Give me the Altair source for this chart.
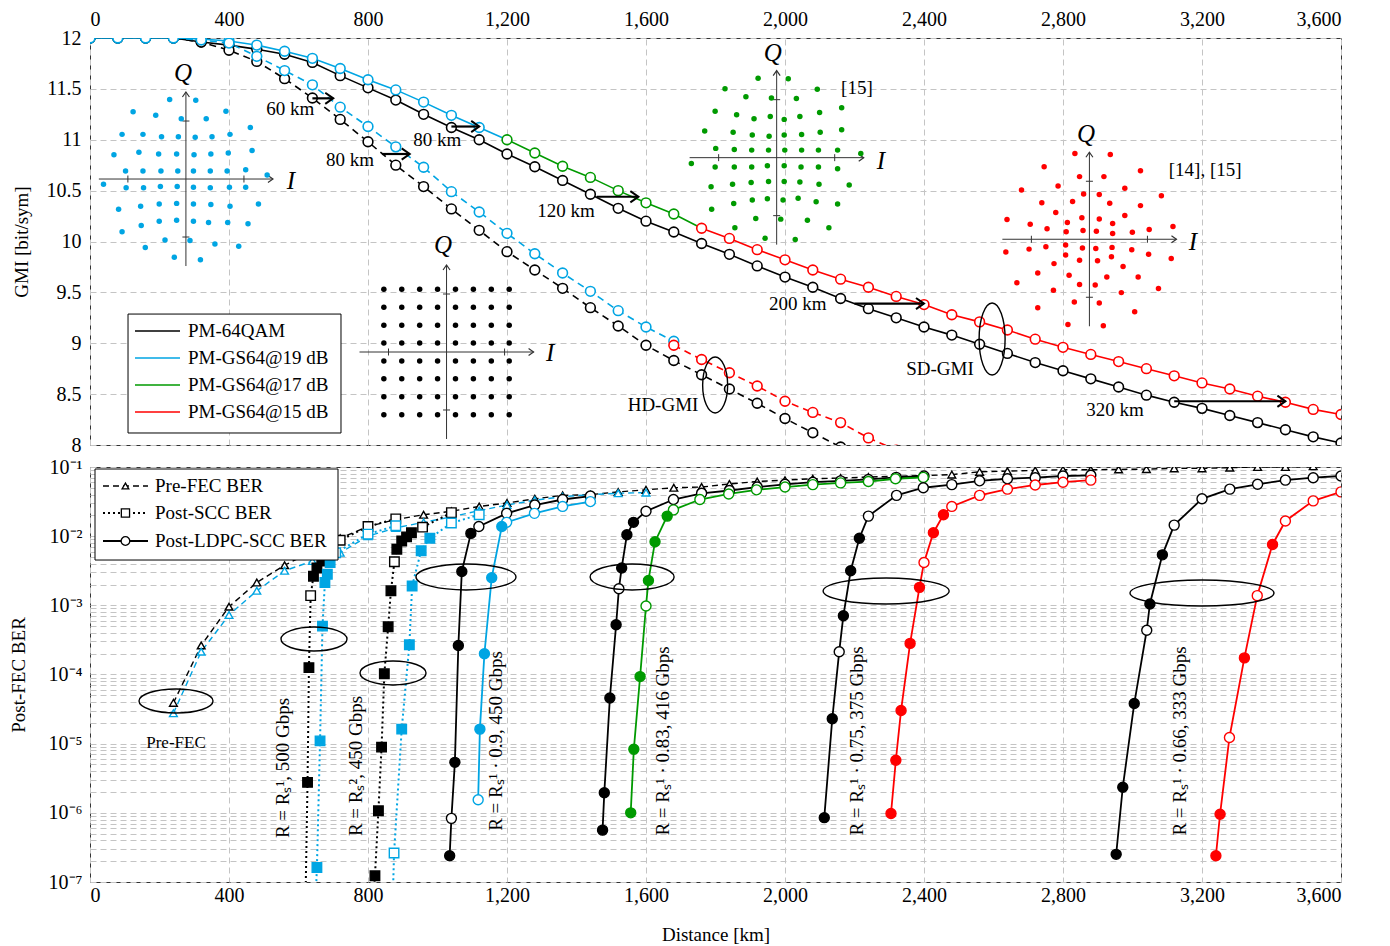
import math
import altair as alt
import pandas as pd

FONT = "Liberation Serif"
BLACK = "#000000"
BLUE = "#00a5e3"
GREEN = "#009a00"
RED = "#ff0000"
GRID = "#c4c4c4"
AXLINE = "#333333"

W = 1251
H_TOP = 407
H_BOT = 415

# ===================== TOP PANEL: GMI vs distance =====================
QAM_SD_KM = [0, 80, 160, 240, 320, 400, 480, 560, 640, 720, 800, 880, 960, 1040, 1120,
             1200, 1280, 1360, 1440, 1520, 1600, 1680, 1760, 1840, 1920, 2000, 2080, 2160,
             2240, 2320, 2400, 2480, 2560, 2640, 2720, 2800, 2880, 2960, 3040, 3120, 3200,
             3280, 3360, 3440, 3520, 3600]
QAM_SD_GMI = [12, 12, 12, 12, 11.96, 11.93, 11.89, 11.84, 11.76, 11.63, 11.51, 11.39, 11.25, 11.12, 11.00,
              10.86, 10.735, 10.60, 10.464, 10.326, 10.20, 10.093, 9.98, 9.874, 9.76, 9.65, 9.55, 9.44,
              9.34, 9.25, 9.16, 9.08, 8.99, 8.90, 8.81, 8.73, 8.65, 8.57, 8.49, 8.42, 8.36,
              8.29, 8.22, 8.15, 8.08, 8.02]

GS19_SD_KM = [0, 80, 160, 240, 320, 400, 480, 560, 640, 720, 800, 880, 960, 1040, 1120, 1200]
GS19_SD_GMI = [12, 12, 12, 12, 11.99, 11.97, 11.93, 11.87, 11.80, 11.70, 11.59, 11.49, 11.37, 11.24, 11.12, 11.00]

GS17_SD_KM = [1200, 1280, 1360, 1440, 1520, 1600, 1680, 1760]
GS17_SD_GMI = [11.00, 10.87, 10.74, 10.63, 10.50, 10.38, 10.27, 10.13]

GS15_SD_KM = [1760, 1840, 1920, 2000, 2080, 2160, 2240, 2320, 2400, 2480, 2560, 2640, 2720, 2800,
              2880, 2960, 3040, 3120, 3200, 3280, 3360, 3440, 3520, 3600]
GS15_SD_GMI = [10.13, 10.03, 9.92, 9.82, 9.72, 9.63, 9.55, 9.46, 9.38, 9.28, 9.21, 9.13, 9.04, 8.96,
               8.89, 8.82, 8.75, 8.68, 8.61, 8.55, 8.48, 8.42, 8.35, 8.30]

QAM_HD_KM = [0, 80, 160, 240, 320, 400, 480, 560, 640, 720, 800, 880, 960, 1040, 1120,
             1200, 1280, 1360, 1440, 1520, 1600, 1680, 1760, 1840, 1920, 2000, 2080, 2160]
QAM_HD_GMI = [12, 12, 12, 12, 11.96, 11.88, 11.77, 11.60, 11.41, 11.20, 10.98, 10.75, 10.54, 10.32, 10.11,
              9.90, 9.72, 9.54, 9.35, 9.17, 8.98, 8.83, 8.69, 8.55, 8.41, 8.26, 8.12, 7.98]

GS19_HD_KM = [0, 80, 160, 240, 320, 400, 480, 560, 640, 720, 800, 880, 960, 1040, 1120,
              1200, 1280, 1360, 1440, 1520, 1600, 1680]
GS19_HD_GMI = [12, 12, 12, 12, 11.98, 11.95, 11.82, 11.68, 11.54, 11.32, 11.13, 10.93, 10.73, 10.49, 10.29,
               10.08, 9.88, 9.69, 9.51, 9.32, 9.16, 9.02]

GS15_HD_KM = [1680, 1760, 1840, 1920, 2000, 2080, 2160, 2240, 2320]
GS15_HD_GMI = [8.98, 8.84, 8.71, 8.58, 8.43, 8.32, 8.22, 8.07, 7.95]

# (name, km, gmi, colour, style, marker on last point)
TOP_SERIES = [
    ("qam_sd", QAM_SD_KM, QAM_SD_GMI, BLACK, "solid", True),
    ("qam_hd", QAM_HD_KM, QAM_HD_GMI, BLACK, "dash", True),
    ("gs19_sd", GS19_SD_KM, GS19_SD_GMI, BLUE, "solid", False),
    ("gs19_hd", GS19_HD_KM, GS19_HD_GMI, BLUE, "dash", True),
    ("gs17_sd", GS17_SD_KM, GS17_SD_GMI, GREEN, "solid", False),
    ("gs15_sd", GS15_SD_KM, GS15_SD_GMI, RED, "solid", True),
    ("gs15_hd", GS15_HD_KM, GS15_HD_GMI, RED, "dash", True),
]

# Constellation diagrams (normalised I/Q, tick mark at +-1)
GS19_IQ = [(0.17, 1.36), (0.35, 1.04), (0.69, 1.17), (1.11, 0.89), (0.16, 0.72), (0.45, 0.73), (0.76, 0.77),
           (0.14, 0.42), (0.43, 0.43), (0.73, 0.45), (1.14, 0.49), (0.13, 0.14), (0.42, 0.14), (0.71, 0.14),
           (1.03, 0.16), (1.40, 0.07),
           (-0.28, 1.37), (-0.08, 1.04), (-0.52, 1.10), (-0.91, 1.16), (-1.10, 0.77), (-0.74, 0.77),
           (-0.42, 0.73), (-0.13, 0.73), (-1.24, 0.42), (-0.81, 0.46), (-0.47, 0.43), (-0.16, 0.43),
           (-1.04, 0.14), (-0.74, 0.14), (-0.43, 0.14), (-0.14, 0.14),
           (-1.42, -0.09), (-1.03, -0.15), (-0.73, -0.15), (-0.44, -0.13), (-0.15, -0.13), (-1.16, -0.52),
           (-0.78, -0.47), (-0.46, -0.43), (-0.16, -0.42), (-1.10, -0.91), (-0.77, -0.80), (-0.46, -0.73),
           (-0.16, -0.71), (-0.70, -1.18), (-0.36, -1.05), (-0.20, -1.35),
           (0.13, -0.14), (0.42, -0.15), (0.75, -0.14), (1.03, -0.14), (1.25, -0.43), (0.13, -0.43),
           (0.43, -0.44), (0.76, -0.47), (0.13, -0.73), (0.39, -0.75), (0.72, -0.75), (1.07, -0.77),
           (0.07, -1.06), (0.50, -1.12), (0.91, -1.16), (0.25, -1.39)]

GS17_IQ = [(-0.32, 1.37), (0.20, 1.36),
           (-0.89, 1.19), (-0.53, 1.05), (-0.09, 1.03), (0.34, 1.02), (0.70, 1.18),
           (-1.06, 0.80), (-0.69, 0.74), (-0.39, 0.67), (-0.11, 0.71), (0.13, 0.66), (0.40, 0.71), (0.74, 0.78), (1.12, 0.86),
           (-1.24, 0.46), (-0.75, 0.44), (-0.42, 0.39), (-0.13, 0.37), (0.13, 0.39), (0.43, 0.40), (0.75, 0.44), (1.12, 0.48),
           (-1.05, 0.16), (-0.73, 0.14), (-0.43, 0.13), (-0.14, 0.13), (0.14, 0.13), (0.43, 0.13), (0.72, 0.13), (1.05, 0.13), (1.45, 0.07),
           (-1.47, -0.10), (-1.06, -0.16), (-0.73, -0.16), (-0.43, -0.16), (-0.16, -0.14), (0.13, -0.14), (0.42, -0.16), (0.72, -0.16), (1.05, -0.19),
           (-1.13, -0.50), (-0.76, -0.46), (-0.44, -0.43), (-0.14, -0.41), (0.13, -0.41), (0.40, -0.42), (0.73, -0.46), (1.25, -0.47),
           (-1.12, -0.89), (-0.74, -0.79), (-0.42, -0.73), (-0.16, -0.71), (0.11, -0.73), (0.37, -0.70), (0.68, -0.76), (1.05, -0.80),
           (-0.72, -1.21), (-0.36, -1.05), (0.07, -1.06), (0.53, -1.08), (0.90, -1.21),
           (-0.20, -1.39), (0.32, -1.41)]

GS15_IQ = [(-0.25, 1.48), (0.36, 1.46), (-0.78, 1.25), (0.88, 1.18), (-0.17, 1.08), (0.25, 1.08),
           (-0.54, 0.92), (-1.17, 0.85), (0.61, 0.88), (1.24, 0.75),
           (-0.10, 0.78), (0.17, 0.77), (-0.29, 0.65), (-0.82, 0.63), (0.35, 0.62), (0.88, 0.58),
           (-0.58, 0.46), (0.61, 0.41), (-1.42, 0.34), (-1.02, 0.26), (-0.38, 0.29), (-0.13, 0.37), (0.17, 0.35), (0.40, 0.27), (1.44, 0.22),
           (-0.73, 0.18), (-0.40, 0.13), (-0.11, 0.15), (0.12, 0.14), (0.40, 0.10), (0.74, 0.12), (1.03, 0.17),
           (-1.44, -0.22), (-1.04, -0.17), (-0.75, -0.13), (-0.41, -0.10), (-0.12, -0.15), (0.11, -0.16), (0.39, -0.14), (0.73, -0.18), (1.02, -0.26), (1.41, -0.33),
           (-0.61, -0.42), (-0.41, -0.27), (-0.17, -0.36), (0.14, -0.37), (0.38, -0.30), (0.58, -0.47),
           (-0.89, -0.58), (-0.35, -0.62), (-0.17, -0.78), (0.10, -0.79), (0.30, -0.65), (0.84, -0.65), (-1.25, -0.75),
           (-0.62, -0.88), (0.55, -0.92), (1.19, -0.85),
           (-0.26, -1.08), (0.17, -1.10), (-0.89, -1.18), (0.78, -1.25),
           (-0.37, -1.47), (0.24, -1.49)]

QAM_LEVELS = [-7, -5, -3, -1, 1, 3, 5, 7]
QAM_NORM = math.sqrt(42)

# inset placement: centre (km, GMI), one normalised unit in km / GMI
UK = 167.0
UG = 0.57
INSET_CENTRES = {"gs19": (276, 10.614), "gs17": (1976, 10.824), "gs15": (2876, 10.022), "qam": (1026, 8.914)}
INSET_LABELS = [  # (text, km, gmi)
    ("Q", 268, 11.656), ("I", 578, 10.595),
    ("Q", 1965, 11.853), ("I", 2276, 10.791),
    ("Q", 2866, 11.057), ("I", 3174, 9.995),
    ("Q", 1016, 9.966), ("I", 1324, 8.904)]
REF_LABELS = [("[15]", 2207, 11.509), ("[14], [15]", 3209, 10.703)]

# distance-gain arrows: (start km, end km, gmi, label, label km, label gmi)
ARROWS = [(640, 700, 11.407, "60 km", 576, 11.302),
          (1040, 1120, 11.13, "80 km", 999, 10.998),
          (840, 920, 10.86, "80 km", 748, 10.80),
          (1458, 1578, 10.44, "120 km", 1370, 10.30),
          (2200, 2400, 9.39, "200 km", 2037, 9.386),
          (3120, 3440, 8.43, "320 km", 2950, 8.344)]
TOP_ELLIPSES = [(1799, 8.59, 25, 56), (2596, 9.042, 26, 72)]  # km, gmi, width px, height px
TOP_NOTES = [("HD-GMI", 1649, 8.393), ("SD-GMI", 2446, 8.747)]

TOP_LEGEND = [("PM-64QAM", BLACK), ("PM-GS64@19 dB", BLUE), ("PM-GS64@17 dB", GREEN), ("PM-GS64@15 dB", RED)]
TOP_LEG_ROWS = [9.120, 8.855, 8.590, 8.324]
TOP_LEG_BOX = (109.4, 722.3, 9.287, 8.118)
TOP_LEG_LINE = (129.5, 259.0)
TOP_LEG_TEXT_KM = 282

# ===================== BOTTOM PANEL: BER vs distance =====================
PRE_QAM_KM = [240, 320, 400, 480, 560, 640, 720, 800, 880, 960, 1040, 1120, 1200, 1280, 1360, 1440, 1520,
              1600, 1680, 1760, 1840, 1920, 2000, 2080, 2160, 2240, 2320, 2400, 2480, 2560, 2640, 2720,
              2800, 2880, 2960, 3040, 3120, 3200, 3280, 3360, 3440, 3520]
PRE_QAM_LOG = [-4.41, -3.58, -3.02, -2.67, -2.42, -2.22, -2.03, -1.86, -1.76, -1.69, -1.64, -1.57, -1.52,
               -1.46, -1.41, -1.40, -1.36, -1.33, -1.30, -1.29, -1.245, -1.21, -1.19, -1.17, -1.16, -1.145,
               -1.135, -1.125, -1.11, -1.07, -1.06, -1.05, -1.04, -1.04, -1.035, -1.03, -1.02, -1.02, -1.01,
               -1.00, -1.00, -0.99]
PRE_GS_KM = [240, 320, 400, 480, 560, 640, 720, 800, 880, 960, 1040, 1120, 1200, 1280, 1360, 1440, 1520, 1600]
PRE_GS_LOG = [-4.56, -3.67, -3.14, -2.79, -2.50, -2.36, -2.24, -2.00, -1.88, -1.80, -1.72, -1.63, -1.55,
              -1.48, -1.43, -1.40, -1.38, -1.37]

SCC_QAM_500_KM = [880, 800, 720, 667, 653, 643, 635, 630, 626, 620]
SCC_QAM_500_LOG = [-1.75, -1.86, -2.06, -2.36, -2.46, -2.58, -2.86, -3.90, -5.56, -7.3]
SCC_QAM_500_MK = "ooofffoffn"
SCC_GS_500_KM = [880, 800, 707, 691, 683, 676, 669, 662, 653, 649]
SCC_GS_500_LOG = [-1.85, -1.97, -2.24, -2.38, -2.55, -2.67, -3.30, -4.96, -6.79, -7.3]
SCC_GS_500_MK = "oooffffffn"
SCC_QAM_450_KM = [1040, 957, 925, 911, 897, 883, 876, 866, 858, 847, 839, 830, 820, 815]
SCC_QAM_450_LOG = [-1.66, -1.87, -1.95, -2.01, -2.07, -2.19, -2.37, -2.79, -3.31, -3.99, -5.05, -5.97, -6.91, -7.3]
SCC_QAM_450_MK = "ooffffoffffffn"
SCC_GS_450_KM = [1120, 1040, 978, 953, 927, 919, 897, 875, 871]
SCC_GS_450_LOG = [-1.69, -1.81, -2.03, -2.21, -2.72, -3.57, -4.79, -6.58, -7.3]
SCC_GS_450_MK = "oofffffon"

LDPC_QAM_450_KM = [1440, 1360, 1280, 1199, 1119, 1096, 1070, 1060, 1050, 1040, 1035]
LDPC_QAM_450_LOG = [-1.42, -1.47, -1.55, -1.67, -1.86, -1.96, -2.51, -3.58, -5.27, -6.08, -6.62]
LDPC_QAM_450_MK = "oooooffffof"
LDPC_GS19_KM = [1440, 1360, 1279, 1199, 1185, 1156, 1135, 1122, 1117]
LDPC_GS19_LOG = [-1.50, -1.57, -1.67, -1.80, -1.86, -2.60, -3.70, -4.79, -5.81]
LDPC_GS19_MK = "ooooffffo"
LDPC_QAM_416_KM = [2400, 2320, 2240, 2160, 2080, 2000, 1920, 1840, 1760, 1679, 1600, 1564, 1545, 1530, 1522,
                   1514, 1496, 1480, 1475]
LDPC_QAM_416_LOG = [-1.13, -1.15, -1.18, -1.20, -1.22, -1.25, -1.29, -1.34, -1.38, -1.47, -1.64, -1.80, -1.98,
                    -2.46, -2.76, -3.28, -4.34, -5.71, -6.25]
LDPC_QAM_416_MK = "ooooooooooofffoffff"
LDPC_GS17_KM = [2398, 2318, 2240, 2160, 2080, 2000, 1918, 1838, 1755, 1679, 1661, 1626, 1607, 1600, 1583, 1565, 1556]
LDPC_GS17_LOG = [-1.15, -1.17, -1.21, -1.23, -1.255, -1.29, -1.33, -1.39, -1.47, -1.62, -1.71, -2.08, -2.64,
                 -3.01, -4.03, -5.08, -6.0]
LDPC_GS17_MK = "oooooooooofffofff"
LDPC_QAM_375_KM = [2880, 2800, 2720, 2640, 2560, 2480, 2398, 2321, 2240, 2214, 2189, 2168, 2156, 2136, 2113]
LDPC_QAM_375_LOG = [-1.12, -1.13, -1.155, -1.17, -1.20, -1.255, -1.30, -1.41, -1.71, -2.03, -2.50, -3.15, -3.67,
                    -4.64, -6.07]
LDPC_QAM_375_MK = "ooooooooofffoff"
LDPC_GS15_375_KM = [2880, 2800, 2720, 2640, 2560, 2480, 2456, 2427, 2400, 2387, 2360, 2334, 2319, 2305]
LDPC_GS15_375_LOG = [-1.19, -1.22, -1.26, -1.32, -1.41, -1.57, -1.69, -1.95, -2.38, -2.74, -3.55, -4.52, -5.24, -6.01]
LDPC_GS15_375_MK = "ooooooffofffff"
LDPC_QAM_333_KM = [3600, 3520, 3440, 3360, 3280, 3200, 3120, 3086, 3050, 3041, 3005, 2972, 2953]
LDPC_QAM_333_LOG = [-1.13, -1.155, -1.19, -1.25, -1.32, -1.46, -1.84, -2.27, -2.98, -3.36, -4.42, -5.63, -6.60]
LDPC_QAM_333_MK = "oooooooffofff"
LDPC_GS15_333_KM = [3600, 3520, 3440, 3403, 3359, 3322, 3279, 3252, 3240]
LDPC_GS15_333_LOG = [-1.36, -1.49, -1.78, -2.12, -2.86, -3.76, -4.91, -6.02, -6.62]
LDPC_GS15_333_MK = "ooofofoff"

BOT_CURVES = [  # name, km, log10 BER, markers, colour, style
    ("pre_qam", PRE_QAM_KM, PRE_QAM_LOG, None, BLACK, "pre"),
    ("pre_gs", PRE_GS_KM, PRE_GS_LOG, None, BLUE, "pre"),
    ("scc_qam_500", SCC_QAM_500_KM, SCC_QAM_500_LOG, SCC_QAM_500_MK, BLACK, "scc"),
    ("scc_gs_500", SCC_GS_500_KM, SCC_GS_500_LOG, SCC_GS_500_MK, BLUE, "scc"),
    ("scc_qam_450", SCC_QAM_450_KM, SCC_QAM_450_LOG, SCC_QAM_450_MK, BLACK, "scc"),
    ("scc_gs_450", SCC_GS_450_KM, SCC_GS_450_LOG, SCC_GS_450_MK, BLUE, "scc"),
    ("ldpc_qam_450", LDPC_QAM_450_KM, LDPC_QAM_450_LOG, LDPC_QAM_450_MK, BLACK, "ldpc"),
    ("ldpc_gs19", LDPC_GS19_KM, LDPC_GS19_LOG, LDPC_GS19_MK, BLUE, "ldpc"),
    ("ldpc_qam_416", LDPC_QAM_416_KM, LDPC_QAM_416_LOG, LDPC_QAM_416_MK, BLACK, "ldpc"),
    ("ldpc_gs17", LDPC_GS17_KM, LDPC_GS17_LOG, LDPC_GS17_MK, GREEN, "ldpc"),
    ("ldpc_qam_375", LDPC_QAM_375_KM, LDPC_QAM_375_LOG, LDPC_QAM_375_MK, BLACK, "ldpc"),
    ("ldpc_gs15_375", LDPC_GS15_375_KM, LDPC_GS15_375_LOG, LDPC_GS15_375_MK, RED, "ldpc"),
    ("ldpc_qam_333", LDPC_QAM_333_KM, LDPC_QAM_333_LOG, LDPC_QAM_333_MK, BLACK, "ldpc"),
    ("ldpc_gs15_333", LDPC_GS15_333_KM, LDPC_GS15_333_LOG, LDPC_GS15_333_MK, RED, "ldpc"),
]

BOT_ELLIPSES = [(247.5, -4.383, 74, 24), (644.6, -3.487, 66, 24), (872, -3.978, 66, 24),
                (1082, -2.590, 100, 26), (1560, -2.590, 84, 26), (2291, -2.793, 126, 26), (3200, -2.822, 144, 26)]
RATE_LABELS = [("R = R\u209b\u00b9, 500 Gbps", 555, -5.352),
               ("R = R\u209b\u00b2, 450 Gbps", 765, -5.323),
               ("R = R\u209b\u00b9 \u00b7 0.9, 450 Gbps", 1168, -4.961),
               ("R = R\u209b\u00b9 \u00b7 0.83, 416 Gbps", 1649, -4.961),
               ("R = R\u209b\u00b9 \u00b7 0.75, 375 Gbps", 2207, -4.961),
               ("R = R\u209b\u00b9 \u00b7 0.66, 333 Gbps", 3137, -4.961)]
PREFEC_NOTE = ("Pre-FEC", 247.5, -4.99)

BOT_LEGEND = [("Pre-FEC BER", "pre"), ("Post-SCC BER", "scc"), ("Post-LDPC-SCC BER", "ldpc")]
BOT_LEG_ROWS = [-1.275, -1.665, -2.070]
BOT_LEG_BOX = (14.4, 713.7, -1.029, -2.345)
BOT_LEG_LINE = (37.4, 166.9)
BOT_LEG_MARK_KM = 102
BOT_LEG_TEXT_KM = 187

X_TICKS = [0, 400, 800, 1200, 1600, 2000, 2400, 2800, 3200, 3600]
GMI_TICKS = [8, 8.5, 9, 9.5, 10, 10.5, 11, 11.5, 12]
BER_TICKS = [m * 10.0 ** e for e in range(-7, -1) for m in range(1, 10)] + [0.1]

STYLE = {"pre": dict(dash=[6, 4], width=1.4, shape="triangle-up", size=60),
         "scc": dict(dash=[2, 3], width=2.0, shape="square", size=90),
         "ldpc": dict(dash=None, width=1.8, shape="circle", size=100)}

ARROW_HEAD = "M-1,-0.7L0,0L-1,0.7"


def ellipse_path(w, h):
    if w >= h:
        r = h / w
        return f"M-1,0A1,{r:.4f},0,1,0,1,0A1,{r:.4f},0,1,0,-1,0Z", w * w
    r = w / h
    return f"M0,-1A{r:.4f},1,0,1,0,0,1A{r:.4f},1,0,1,0,0,-1Z", h * h


# ---------------------------- encodings ----------------------------
X_SCALE = alt.Scale(domain=[0, 3600], nice=False, zero=False)
AX_TOP_X = alt.Axis(orient="top", values=X_TICKS, format=",d", grid=True, labelPadding=9, title=None)
AX_BOT_X = alt.Axis(orient="bottom", values=X_TICKS, format=",d", grid=True, labelPadding=3,
                    title="Distance [km]", titleY=52, titleBaseline="middle")
xT = alt.X("km:Q", scale=X_SCALE, axis=AX_TOP_X)
yT = alt.Y("gmi:Q", scale=alt.Scale(domain=[8, 12], nice=False, zero=False),
           axis=alt.Axis(values=GMI_TICKS, format="~g", grid=True, labelPadding=9,
                         title="GMI [bit/sym]", titleX=-69, titleY=H_TOP / 2, titleAngle=270,
                         titleBaseline="middle", titleAlign="center"))
xB = alt.X("km:Q", scale=X_SCALE, axis=AX_BOT_X)
LABEL_EXPR = ("abs(log(datum.value)/LN10 - round(log(datum.value)/LN10)) < 0.01 ? "
              "'10' + ['\u2070','\u207b\u00b9','\u207b\u00b2','\u207b\u00b3','\u207b\u2074','\u207b\u2075',"
              "'\u207b\u2076','\u207b\u2077'][-round(log(datum.value)/LN10)] : ''")
yB = alt.Y("ber:Q", scale=alt.Scale(type="log", domain=[1e-7, 1e-1], nice=False),
           axis=alt.Axis(values=BER_TICKS, labelExpr=LABEL_EXPR, grid=True, labelPadding=8,
                         title="Post-FEC BER", titleX=-72, titleY=H_BOT / 2, titleAngle=270,
                         titleBaseline="middle", titleAlign="center"))

# ---------------------------- top panel ----------------------------
rows = []
for s_i, (name, kms, gmis, col, sty, mk_last) in enumerate(TOP_SERIES):
    n = len(kms)
    for i, (k, g) in enumerate(zip(kms, gmis)):
        rows.append(dict(series=name, sidx=s_i, idx=i, km=k, gmi=g, color=col, style=sty,
                         mk=(i < n - 1) or mk_last))
top_df = pd.DataFrame(rows)

top_layers = []
crow = []
for (i, q) in GS19_IQ:
    crow.append(dict(km=INSET_CENTRES["gs19"][0] + i * UK, gmi=INSET_CENTRES["gs19"][1] + q * UG, color=BLUE))
for (i, q) in GS17_IQ:
    crow.append(dict(km=INSET_CENTRES["gs17"][0] + i * UK, gmi=INSET_CENTRES["gs17"][1] + q * UG, color=GREEN))
for (i, q) in GS15_IQ:
    crow.append(dict(km=INSET_CENTRES["gs15"][0] + i * UK, gmi=INSET_CENTRES["gs15"][1] + q * UG, color=RED))
for a in QAM_LEVELS:
    for b in QAM_LEVELS:
        crow.append(dict(km=INSET_CENTRES["qam"][0] + a / QAM_NORM * UK,
                         gmi=INSET_CENTRES["qam"][1] + b / QAM_NORM * UG, color=BLACK))
const_df = pd.DataFrame(crow)

axrows, headrows, tickrows = [], [], []
for key, (cx, cy) in INSET_CENTRES.items():
    axrows.append(dict(km=cx - 1.5 * UK, km2=cx + 1.5 * UK, gmi=cy, gmi2=cy))
    axrows.append(dict(km=cx, km2=cx, gmi=cy - 1.5 * UG, gmi2=cy + 1.5 * UG))
    headrows.append(dict(km=cx + 1.5 * UK, gmi=cy, ang=0))
    headrows.append(dict(km=cx, gmi=cy + 1.5 * UG, ang=270))
    for s in (-1, 1):
        tickrows.append(dict(km=cx + s * UK, gmi=cy, ang=90))
        tickrows.append(dict(km=cx, gmi=cy + s * UG, ang=0))

top_layers.append(alt.Chart(pd.DataFrame(axrows)).mark_rule(color=AXLINE, strokeWidth=1).encode(
    x=xT, x2=alt.X2("km2:Q"), y=yT, y2=alt.Y2("gmi2:Q")))
top_layers.append(alt.Chart(pd.DataFrame(tickrows)).mark_point(
    shape="stroke", size=49, color=AXLINE, strokeWidth=1, opacity=1, filled=False).encode(
    x=xT, y=yT, angle=alt.Angle("ang:Q", scale=None)))
top_layers.append(alt.Chart(pd.DataFrame(headrows)).mark_point(
    shape=ARROW_HEAD, size=100, color=AXLINE, strokeWidth=1.2, opacity=1, filled=False).encode(
    x=xT, y=yT, angle=alt.Angle("ang:Q", scale=None)))
top_layers.append(alt.Chart(const_df).mark_circle(size=30, opacity=1).encode(
    x=xT, y=yT, color=alt.Color("color:N", scale=None)))
top_layers.append(alt.Chart(pd.DataFrame(INSET_LABELS, columns=["label", "km", "gmi"])).mark_text(
    font=FONT, fontSize=25, fontStyle="italic", color=BLACK).encode(x=xT, y=yT, text="label:N"))
top_layers.append(alt.Chart(pd.DataFrame(REF_LABELS, columns=["label", "km", "gmi"])).mark_text(
    font=FONT, fontSize=19, color=BLACK).encode(x=xT, y=yT, text="label:N"))

# curves
top_layers.append(alt.Chart(top_df[top_df["style"] == "solid"]).mark_line(strokeWidth=1.6, clip=True).encode(
    x=xT, y=yT, color=alt.Color("color:N", scale=None), detail="series:N", order="idx:Q"))
top_layers.append(alt.Chart(top_df[top_df["style"] == "dash"]).mark_line(
    strokeWidth=1.6, strokeDash=[7, 5], clip=True).encode(
    x=xT, y=yT, color=alt.Color("color:N", scale=None), detail="series:N", order="idx:Q"))
top_layers.append(alt.Chart(top_df[top_df["mk"]]).mark_point(
    shape="circle", size=95, fill="white", fillOpacity=1, opacity=1, strokeWidth=1.6, clip=True).encode(
    x=xT, y=yT, stroke=alt.Stroke("color:N", scale=None)))

# arrows and notes
arr_df = pd.DataFrame([dict(km=a[0], km2=a[1], gmi=a[2], gmi2=a[2]) for a in ARROWS])
top_layers.append(alt.Chart(arr_df).mark_rule(color=BLACK, strokeWidth=2.2).encode(
    x=xT, x2=alt.X2("km2:Q"), y=yT))
top_layers.append(alt.Chart(pd.DataFrame([dict(km=a[1], gmi=a[2]) for a in ARROWS])).mark_point(
    shape=ARROW_HEAD, size=256, color=BLACK, strokeWidth=2, opacity=1, filled=False).encode(x=xT, y=yT))
top_layers.append(alt.Chart(pd.DataFrame([dict(label=a[3], km=a[4], gmi=a[5]) for a in ARROWS])).mark_text(
    font=FONT, fontSize=19, color=BLACK).encode(x=xT, y=yT, text="label:N"))
for (ek, eg, ew, eh) in TOP_ELLIPSES:
    pth, sz = ellipse_path(ew, eh)
    top_layers.append(alt.Chart(pd.DataFrame([dict(km=ek, gmi=eg)])).mark_point(
        shape=pth, size=sz, color=BLACK, strokeWidth=1.4, opacity=1, filled=False).encode(x=xT, y=yT))
top_layers.append(alt.Chart(pd.DataFrame(TOP_NOTES, columns=["label", "km", "gmi"])).mark_text(
    font=FONT, fontSize=19, color=BLACK).encode(x=xT, y=yT, text="label:N"))

# legend (top)
top_layers.append(alt.Chart(pd.DataFrame([dict(km=TOP_LEG_BOX[0], km2=TOP_LEG_BOX[1],
                                               gmi=TOP_LEG_BOX[2], gmi2=TOP_LEG_BOX[3])])).mark_rect(
    fill="white", stroke=BLACK, strokeWidth=1).encode(x=xT, x2=alt.X2("km2:Q"), y=yT, y2=alt.Y2("gmi2:Q")))
tl_df = pd.DataFrame([dict(label=l, color=c, gmi=g, km=TOP_LEG_LINE[0], km2=TOP_LEG_LINE[1], tkm=TOP_LEG_TEXT_KM)
                      for (l, c), g in zip(TOP_LEGEND, TOP_LEG_ROWS)])
top_layers.append(alt.Chart(tl_df).mark_rule(strokeWidth=1.6).encode(
    x=xT, x2=alt.X2("km2:Q"), y=yT, color=alt.Color("color:N", scale=None)))
top_layers.append(alt.Chart(tl_df).mark_text(font=FONT, fontSize=19, align="left", color=BLACK).encode(
    x=alt.X("tkm:Q", scale=X_SCALE, axis=AX_TOP_X), y=yT, text="label:N"))

top = alt.layer(*top_layers).properties(width=W, height=H_TOP)

# ---------------------------- bottom panel ----------------------------
brow = []
for c_i, (name, kms, logs, mks, col, sty) in enumerate(BOT_CURVES):
    for i, (k, lg) in enumerate(zip(kms, logs)):
        m = "o" if mks is None else mks[i]
        brow.append(dict(curve=name, cidx=c_i, idx=i, km=k, ber=10.0 ** lg, color=col, style=sty, mk=m,
                         fillc=(col if m == "f" else "white")))
bot_df = pd.DataFrame(brow)

bot_layers = []
for sty in ("pre", "scc", "ldpc"):
    st = STYLE[sty]
    kw = dict(strokeWidth=st["width"], clip=True)
    if st["dash"]:
        kw["strokeDash"] = st["dash"]
    bot_layers.append(alt.Chart(bot_df[bot_df["style"] == sty]).mark_line(**kw).encode(
        x=xB, y=yB, color=alt.Color("color:N", scale=None), detail="curve:N", order="idx:Q"))
for sty in ("pre", "scc", "ldpc"):
    st = STYLE[sty]
    sub = bot_df[(bot_df["style"] == sty) & (bot_df["mk"] != "n")]
    bot_layers.append(alt.Chart(sub).mark_point(
        shape=st["shape"], size=st["size"], opacity=1, fillOpacity=1, strokeWidth=1.4, clip=True).encode(
        x=xB, y=yB, stroke=alt.Stroke("color:N", scale=None), fill=alt.Fill("fillc:N", scale=None)))

for (ek, elog, ew, eh) in BOT_ELLIPSES:
    pth, sz = ellipse_path(ew, eh)
    bot_layers.append(alt.Chart(pd.DataFrame([dict(km=ek, ber=10.0 ** elog)])).mark_point(
        shape=pth, size=sz, color=BLACK, strokeWidth=1.4, opacity=1, filled=False).encode(x=xB, y=yB))
bot_layers.append(alt.Chart(pd.DataFrame([dict(label=t, km=k, ber=10.0 ** lg) for t, k, lg in RATE_LABELS])).mark_text(
    font=FONT, fontSize=19, angle=270, color=BLACK).encode(x=xB, y=yB, text="label:N"))
bot_layers.append(alt.Chart(pd.DataFrame([dict(label=PREFEC_NOTE[0], km=PREFEC_NOTE[1],
                                               ber=10.0 ** PREFEC_NOTE[2])])).mark_text(
    font=FONT, fontSize=17, color=BLACK).encode(x=xB, y=yB, text="label:N"))

# legend (bottom)
bot_layers.append(alt.Chart(pd.DataFrame([dict(km=BOT_LEG_BOX[0], km2=BOT_LEG_BOX[1],
                                               ber=10.0 ** BOT_LEG_BOX[2], ber2=10.0 ** BOT_LEG_BOX[3])])).mark_rect(
    fill="white", stroke=BLACK, strokeWidth=1).encode(x=xB, x2=alt.X2("km2:Q"), y=yB, y2=alt.Y2("ber2:Q")))
for (label, sty), lg in zip(BOT_LEGEND, BOT_LEG_ROWS):
    st = STYLE[sty]
    d = pd.DataFrame([dict(km=BOT_LEG_LINE[0], km2=BOT_LEG_LINE[1], ber=10.0 ** lg, label=label,
                           mkm=BOT_LEG_MARK_KM, tkm=BOT_LEG_TEXT_KM)])
    kw = dict(strokeWidth=st["width"], color=BLACK)
    if st["dash"]:
        kw["strokeDash"] = st["dash"]
    bot_layers.append(alt.Chart(d).mark_rule(**kw).encode(x=xB, x2=alt.X2("km2:Q"), y=yB))
    bot_layers.append(alt.Chart(d).mark_point(shape=st["shape"], size=st["size"] * 0.75, fill="white",
                                              fillOpacity=1, stroke=BLACK, strokeWidth=1.3, opacity=1).encode(
        x=alt.X("mkm:Q", scale=X_SCALE, axis=AX_BOT_X), y=yB))
    bot_layers.append(alt.Chart(d).mark_text(font=FONT, fontSize=19, align="left", color=BLACK).encode(
        x=alt.X("tkm:Q", scale=X_SCALE, axis=AX_BOT_X), y=yB, text="label:N"))

bottom = alt.layer(*bot_layers).properties(width=W, height=H_BOT)

chart = alt.vconcat(top, bottom, spacing=0, padding=0).resolve_scale(
    x="independent", y="independent"
).configure(font=FONT).configure_axis(
    labelFont=FONT, titleFont=FONT, labelFontSize=20, titleFontSize=19, titleFontWeight="normal",
    labelColor=BLACK, titleColor=BLACK, gridColor=GRID, gridDash=[6, 4], gridWidth=1,
    ticks=False, domain=False
).configure_view(stroke=AXLINE, strokeWidth=1)

chart.save("out.html", embed_options={"renderer": "svg", "actions": False})
